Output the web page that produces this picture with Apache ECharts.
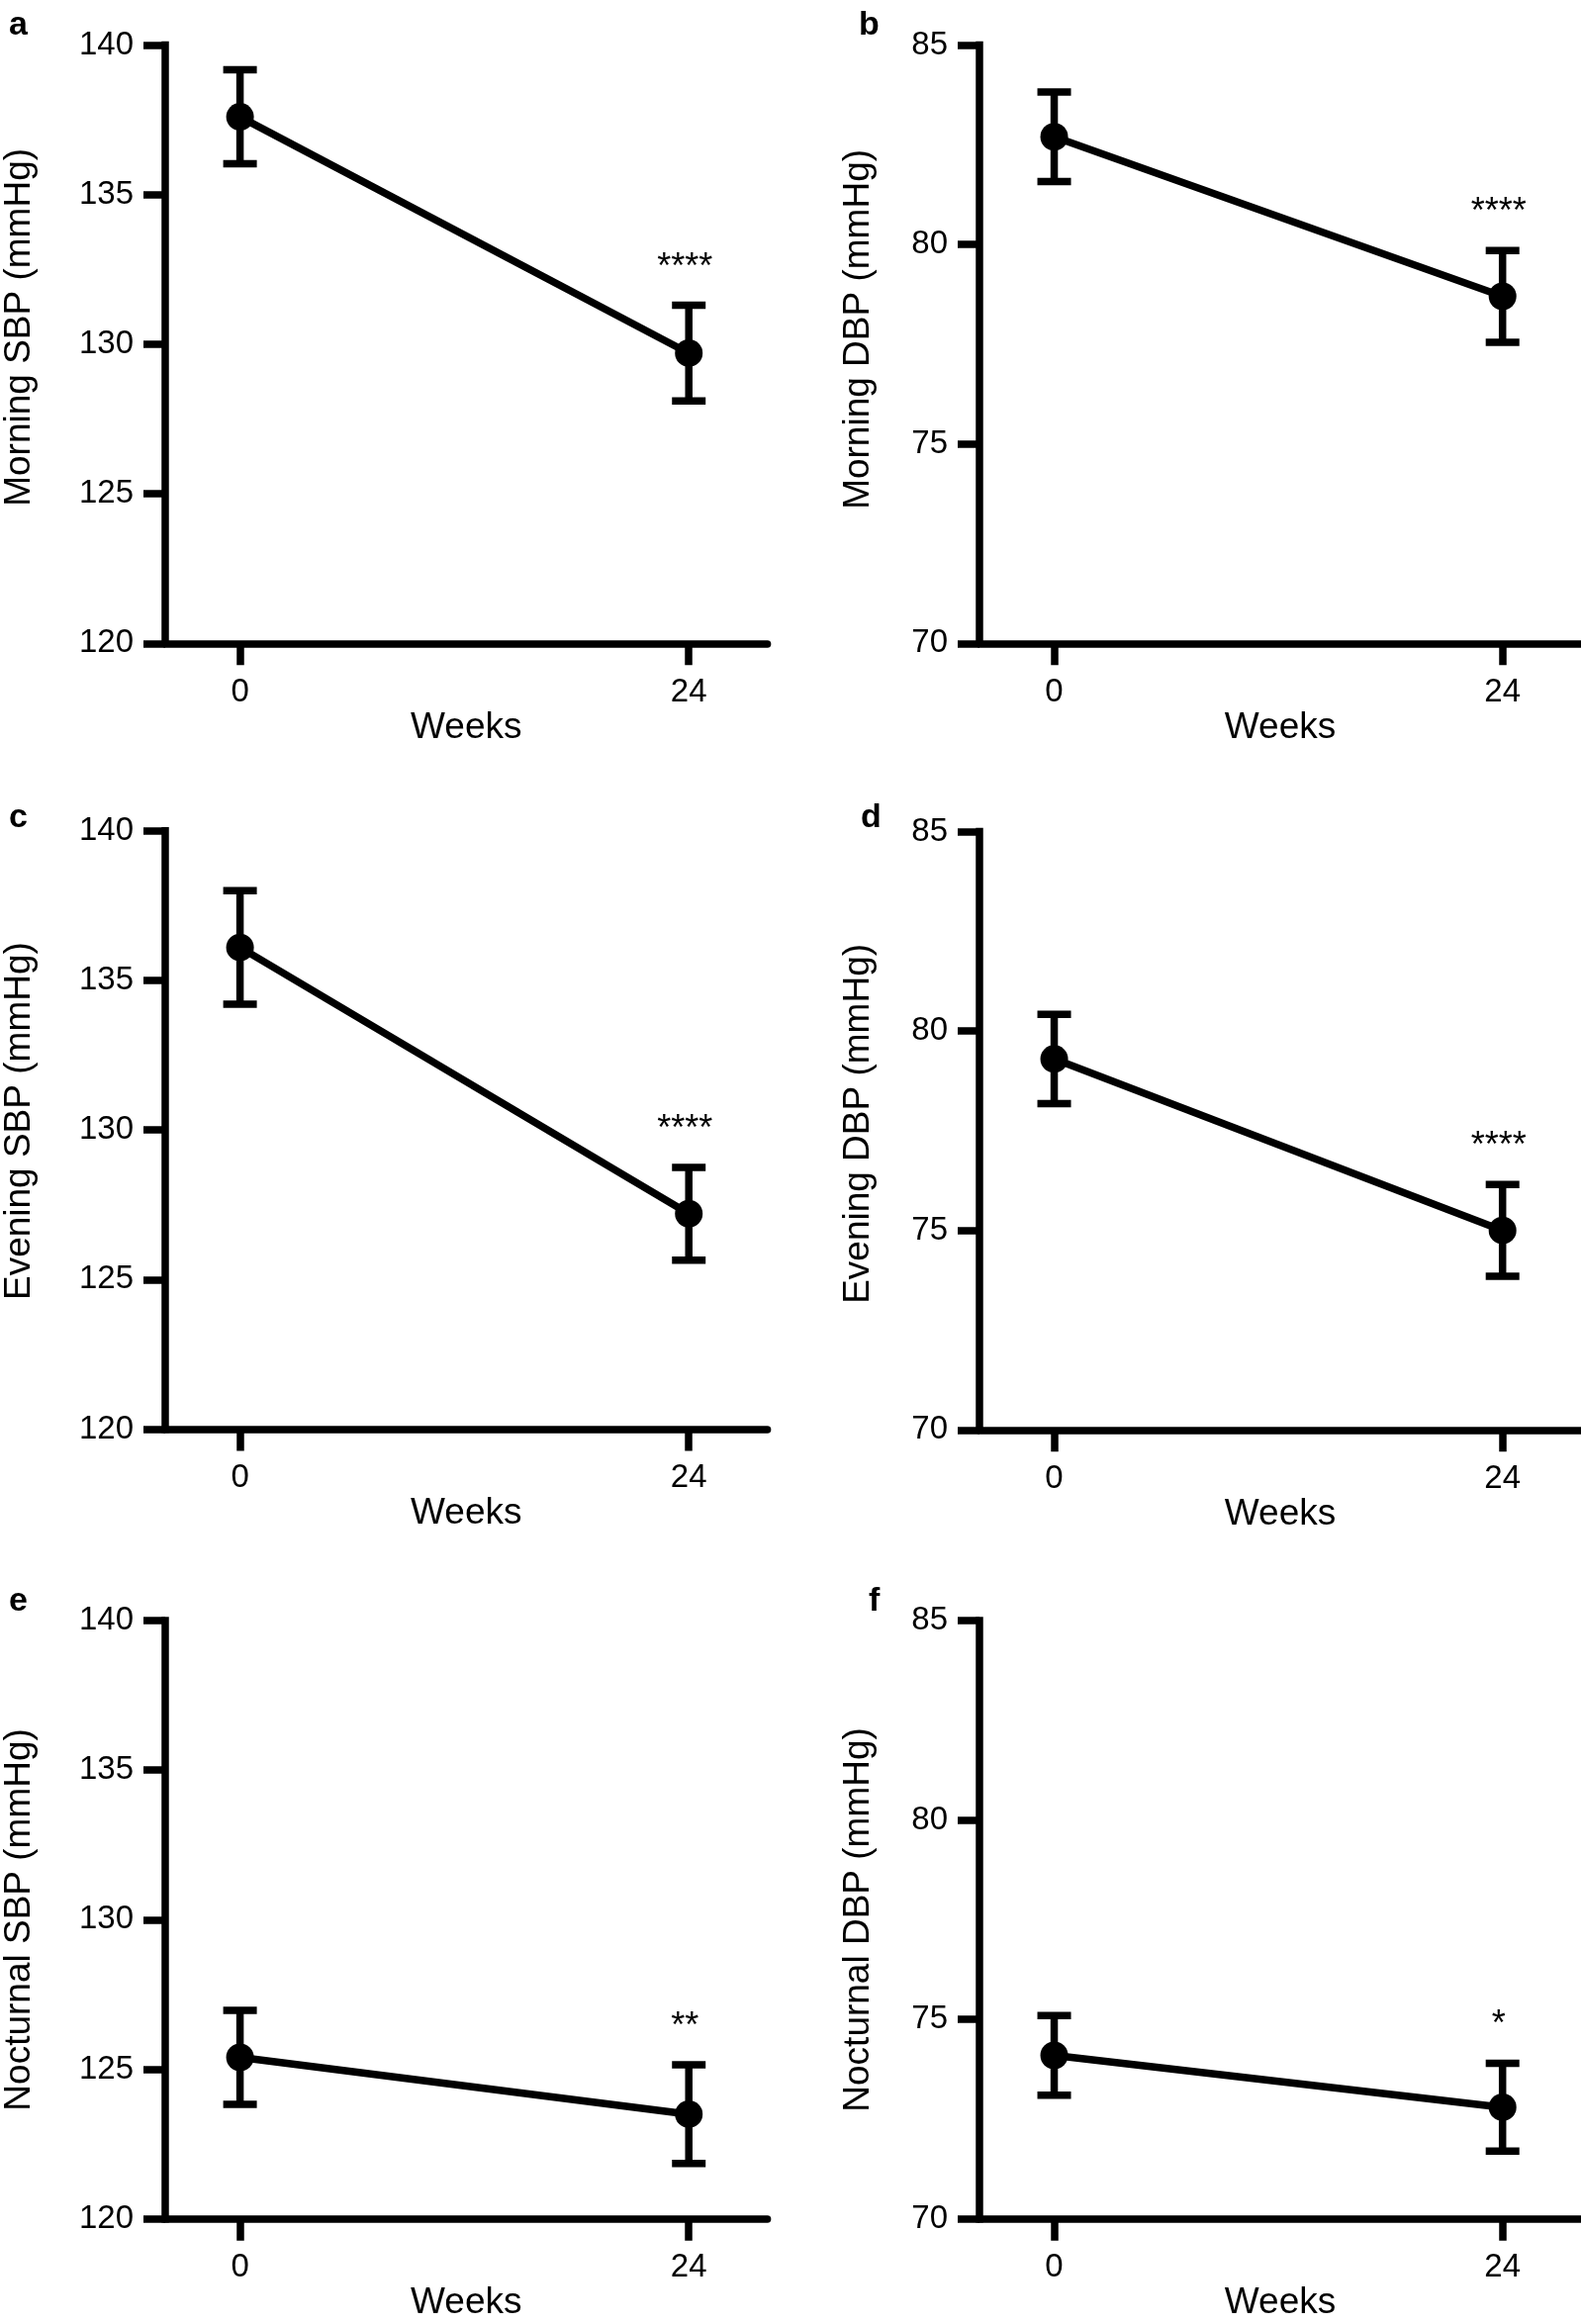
<!DOCTYPE html>
<html>
<head>
<meta charset="utf-8">
<script src="https://cdn.jsdelivr.net/npm/echarts@6/dist/echarts.min.js"></script>
<style>
html,body{margin:0;padding:0;background:#fff;}
#chart{width:1598px;height:2349px;}
</style>
</head>
<body>
<div id="chart"></div>
<script>
// ---- data ----
const weeks = [0, 24];
const xTickValues = [0, 24];
const sbpTicks = [120, 125, 130, 135, 140];
const dbpTicks = [70, 75, 80, 85];

const morningSBP = [137.6, 129.7];
const morningSBPErr = [1.57, 1.6];
const morningSBPSig = ['', '****'];

const morningDBP = [82.7, 78.7];
const morningDBPErr = [1.12, 1.15];
const morningDBPSig = ['', '****'];

const eveningSBP = [136.1, 127.2];
const eveningSBPErr = [1.9, 1.55];
const eveningSBPSig = ['', '****'];

const eveningDBP = [79.3, 75.0];
const eveningDBPErr = [1.12, 1.15];
const eveningDBPSig = ['', '****'];

const nocturnalSBP = [125.4, 123.5];
const nocturnalSBPErr = [1.57, 1.65];
const nocturnalSBPSig = ['', '**'];

const nocturnalDBP = [74.1, 72.8];
const nocturnalDBPErr = [1.0, 1.1];
const nocturnalDBPSig = ['', '*'];

const panelLetters = ['a', 'b', 'c', 'd', 'e', 'f'];
const yTitles = ['Morning SBP (mmHg)', 'Morning DBP (mmHg)', 'Evening SBP (mmHg)',
                 'Evening DBP (mmHg)', 'Nocturnal SBP (mmHg)', 'Nocturnal DBP (mmHg)'];
const xTitle = 'Weeks';

// ---- layout / style ----
const FONT = '"Liberation Sans", Arial, sans-serif';
const panels = [
  {mean: morningSBP, err: morningSBPErr, sig: morningSBPSig, ticks: sbpTicks},
  {mean: morningDBP, err: morningDBPErr, sig: morningDBPSig, ticks: dbpTicks},
  {mean: eveningSBP, err: eveningSBPErr, sig: eveningSBPSig, ticks: sbpTicks},
  {mean: eveningDBP, err: eveningDBPErr, sig: eveningDBPSig, ticks: dbpTicks},
  {mean: nocturnalSBP, err: nocturnalSBPErr, sig: nocturnalSBPSig, ticks: sbpTicks},
  {mean: nocturnalDBP, err: nocturnalDBPErr, sig: nocturnalDBPSig, ticks: dbpTicks}
];
const layout = [
  {left: 167, top: 45.5, gap: 129, shift: 17, lx: 9, ly: 8.5},
  {left: 990, top: 45.5, gap: 103.5, shift: 15, lx: 868, ly: 8.5},
  {left: 167, top: 839.7, gap: 129, shift: 9, lx: 9, ly: 809.5},
  {left: 990, top: 840.5, gap: 103.5, shift: 7, lx: 870, ly: 809.5},
  {left: 167, top: 1638, gap: 129, shift: 0, lx: 9, ly: 1601.5},
  {left: 990, top: 1638, gap: 103.5, shift: 0, lx: 878, ly: 1601.5}
];
const GW = 608.6, GH = 604.8, LW = 7.5;

const grids = [], xAxes = [], yAxes = [], series = [], graphics = [];

panels.forEach((p, i) => {
  const L = layout[i];
  grids.push({left: L.left, top: L.top, width: GW, height: GH, containLabel: false});
  xAxes.push({
    type: 'value', gridIndex: i, min: -4, max: 28.2,
    name: xTitle, nameLocation: 'middle', nameGap: 65.5,
    nameTextStyle: {fontFamily: FONT, fontSize: 37, color: '#000'},
    axisLine: {show: true, onZero: false, lineStyle: {color: '#000', width: LW}},
    axisTick: {show: true, customValues: xTickValues, length: 22, lineStyle: {color: '#000', width: LW}},
    axisLabel: {show: true, customValues: xTickValues, fontFamily: FONT, fontSize: 33, color: '#000', margin: 33},
    splitLine: {show: false}
  });
  const tmin = p.ticks[0], tmax = p.ticks[p.ticks.length - 1];
  yAxes.push({
    type: 'value', gridIndex: i, min: tmin, max: tmax, interval: p.ticks[1] - p.ticks[0],
    name: yTitles[i], nameLocation: 'middle', nameGap: L.gap,
    nameTextStyle: {fontFamily: FONT, fontSize: 37, color: '#000', padding: [0, 0, 0, L.shift * 2]},
    axisLine: {show: true, onZero: false, lineStyle: {color: '#000', width: LW, cap: 'square'}},
    axisTick: {show: true, length: 22, lineStyle: {color: '#000', width: LW}},
    axisLabel: {show: true, fontFamily: FONT, fontSize: 33, color: '#000', margin: 32},
    splitLine: {show: false}
  });
  const barData = weeks.map((w, k) => [w, p.mean[k] - p.err[k], p.mean[k] + p.err[k]]);
  const sig = p.sig;
  series.push({
    type: 'custom', xAxisIndex: i, yAxisIndex: i, clip: false, z: 2,
    data: barData,
    renderItem: function (params, api) {
      const x = api.value(0);
      const lo = api.coord([x, api.value(1)]);
      const hi = api.coord([x, api.value(2)]);
      const st = {stroke: '#000', lineWidth: LW};
      const ch = [
        {type: 'line', shape: {x1: lo[0], y1: lo[1], x2: hi[0], y2: hi[1]}, style: st},
        {type: 'line', shape: {x1: hi[0] - 17, y1: hi[1], x2: hi[0] + 17, y2: hi[1]}, style: st},
        {type: 'line', shape: {x1: lo[0] - 17, y1: lo[1], x2: lo[0] + 17, y2: lo[1]}, style: st}
      ];
      const s = sig[params.dataIndex];
      if (s) {
        ch.push({type: 'text', x: hi[0] - 4, y: hi[1] - 38,
          style: {text: s, fill: '#000', font: '36px ' + FONT, align: 'center', verticalAlign: 'middle'}});
      }
      return {type: 'group', children: ch};
    }
  });
  series.push({
    type: 'line', xAxisIndex: i, yAxisIndex: i, z: 3,
    data: weeks.map((w, k) => [w, p.mean[k]]),
    symbol: 'circle', symbolSize: 28, showSymbol: true,
    itemStyle: {color: '#000'},
    lineStyle: {color: '#000', width: LW}
  });
  graphics.push({type: 'text', left: L.lx, top: L.ly,
    style: {text: panelLetters[i], font: 'bold 34px ' + FONT, fill: '#000'}});
});

const chart = echarts.init(document.getElementById('chart'), null, {renderer: 'canvas'});
chart.setOption({
  animation: false,
  backgroundColor: '#fff',
  grid: grids, xAxis: xAxes, yAxis: yAxes, series: series, graphic: graphics
});
</script>
</body>
</html>
